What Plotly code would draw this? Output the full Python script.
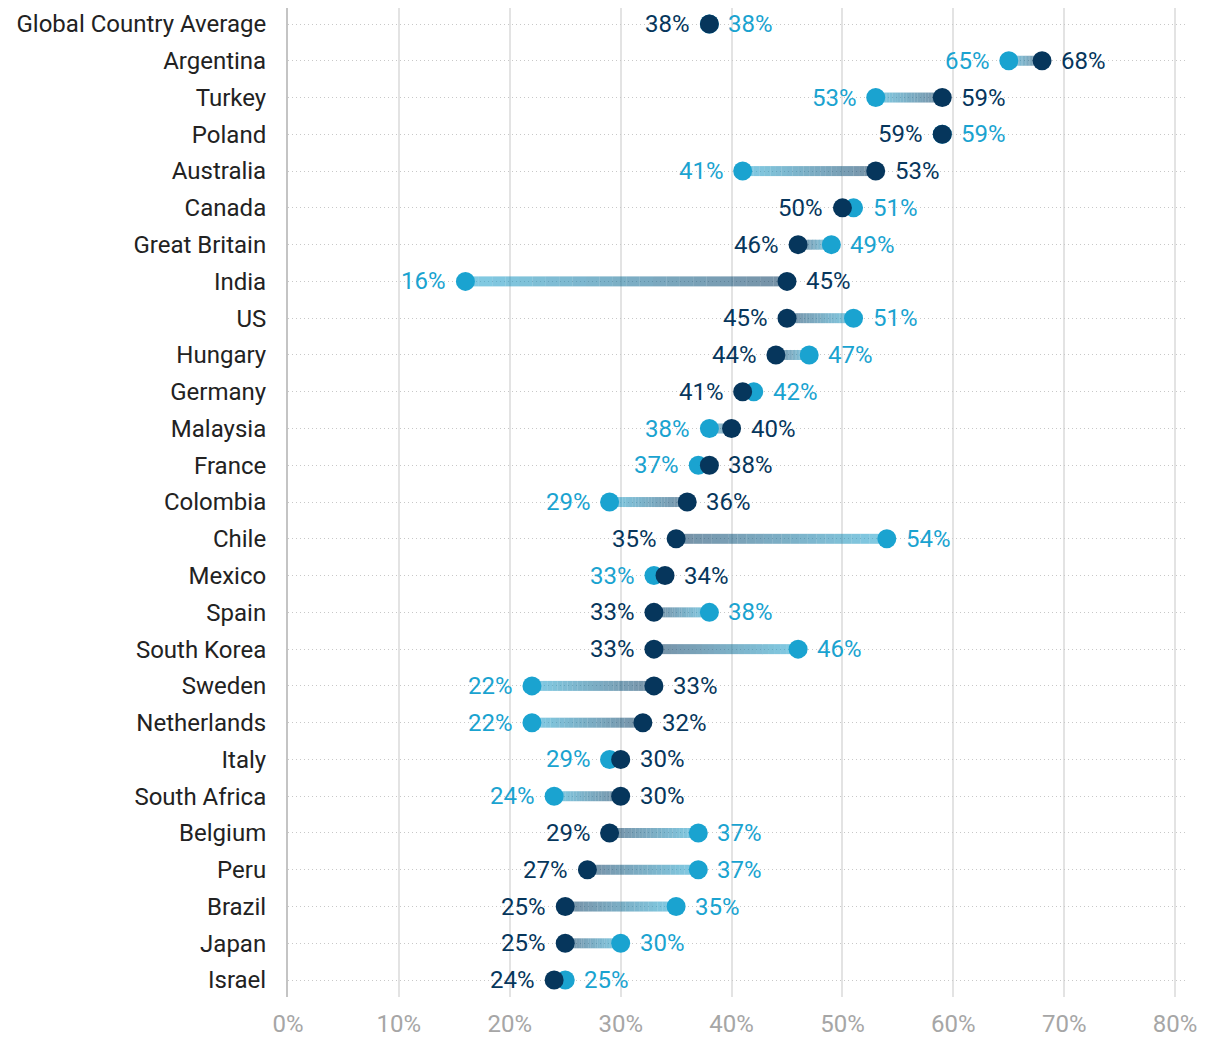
import plotly.graph_objects as go

countries = ["Global Country Average", "Argentina", "Turkey", "Poland", "Australia", "Canada",
             "Great Britain", "India", "US", "Hungary", "Germany", "Malaysia", "France",
             "Colombia", "Chile", "Mexico", "Spain", "South Korea", "Sweden", "Netherlands",
             "Italy", "South Africa", "Belgium", "Peru", "Brazil", "Japan", "Israel"]
dark_vals = [38, 68, 59, 59, 53, 50, 46, 45, 45, 44, 41, 40, 38, 36, 35, 34, 33, 33, 33, 32,
             30, 30, 29, 27, 25, 25, 24]
light_vals = [38, 65, 53, 59, 41, 51, 49, 16, 51, 47, 42, 38, 37, 29, 54, 33, 38, 46, 22, 22,
              29, 24, 37, 37, 35, 30, 25]
x_ticks = [0, 10, 20, 30, 40, 50, 60, 70, 80]
x_ticklabels = [f"{v}%" for v in x_ticks]

DARK = "#06365c"
LIGHT = "#1aa3d0"
DARK_RGB = (6, 54, 92)
LIGHT_RGB = (26, 163, 208)
FONT = "Roboto"
FS = 24

n = len(countries)
ypos = list(range(n))

fig = go.Figure()

# gradient connector segments (light end -> dark end)
NSEG = 24
for k in range(NSEG):
    t0, t1 = k / NSEG, (k + 1) / NSEG
    tm = (t0 + t1) / 2
    r = round(LIGHT_RGB[0] + (DARK_RGB[0] - LIGHT_RGB[0]) * tm)
    g = round(LIGHT_RGB[1] + (DARK_RGB[1] - LIGHT_RGB[1]) * tm)
    b = round(LIGHT_RGB[2] + (DARK_RGB[2] - LIGHT_RGB[2]) * tm)
    xs, ys = [], []
    for i in range(n):
        lv, dv = light_vals[i], dark_vals[i]
        if lv == dv:
            continue
        xs += [lv + (dv - lv) * t0, lv + (dv - lv) * t1, None]
        ys += [ypos[i], ypos[i], None]
    fig.add_trace(go.Scatter(x=xs, y=ys, mode="lines",
                             line=dict(color=f"rgba({r},{g},{b},0.55)", width=10),
                             hoverinfo="skip", showlegend=False))

fig.add_trace(go.Scatter(x=light_vals, y=ypos, mode="markers",
                         marker=dict(color=LIGHT, size=19, line=dict(width=0)),
                         showlegend=False))
fig.add_trace(go.Scatter(x=dark_vals, y=ypos, mode="markers",
                         marker=dict(color=DARK, size=19, line=dict(width=0)),
                         showlegend=False))

annotations = []
for i in range(n):
    dv, lv = dark_vals[i], light_vals[i]
    dark_left = dv <= lv
    for val, col, left in ((dv, DARK, dark_left), (lv, LIGHT, not dark_left)):
        annotations.append(dict(
            x=val, y=ypos[i], xref="x", yref="y", text=f"{val}%", showarrow=False,
            xanchor="right" if left else "left", yanchor="middle",
            xshift=-17 if left else 17,
            font=dict(family=FONT, size=FS, color=col)))

fig.update_layout(
    width=1212, height=1034,
    margin=dict(l=280, r=33, t=0, b=45),
    paper_bgcolor="white", plot_bgcolor="white",
    annotations=annotations,
    font=dict(family=FONT),
    xaxis=dict(range=[0, 81.07], tickvals=x_ticks, ticktext=x_ticklabels,
               showgrid=True, gridcolor="#e3e3e3", gridwidth=2,
               zeroline=False, showline=False,
               tickfont=dict(family=FONT, size=FS, color="#a6a6a6"),
               ticks="", ticklabelstandoff=10),
    yaxis=dict(range=[26.46, -0.435], tickvals=ypos, ticktext=countries,
               showgrid=True, gridcolor="#c8c8c8", gridwidth=1, griddash="1px,3px",
               zeroline=False, showline=True, linecolor="#c4c4c4", linewidth=2,
               tickfont=dict(family=FONT, size=FS, color="#222222"),
               ticks="", ticklabelstandoff=15),
)

fig.write_html("out.html")
